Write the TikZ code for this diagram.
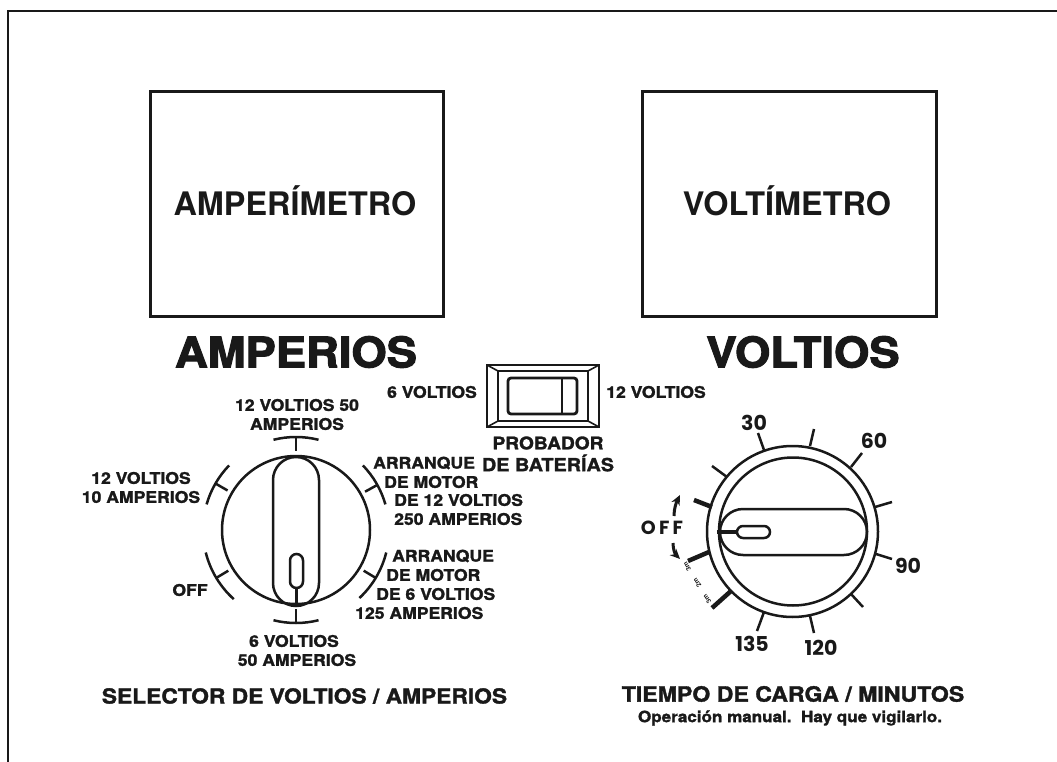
\documentclass[tikz,border=0pt]{standalone}
\usepackage{fontspec}
\setmainfont{TeX Gyre Heros}
\newfontfamily\blk[BoldFeatures={FakeBold=1.6,FakeStretch=1.1}]{TeX Gyre Heros}
\newfontfamily\blkbig[BoldFeatures={FakeBold=2.6,FakeStretch=1.08}]{TeX Gyre Heros}
\newfontfamily\geo{Poppins}
\usetikzlibrary{arrows.meta}
\tikzset{
  line/.style={line width=2.5pt,draw=black!90},
  thickmark/.style={line width=4.5pt,draw=black!90},
  lab/.style={inner sep=0pt,text=black!90,font=\blk\bfseries\fontsize{16}{18}\selectfont},
  big/.style={inner sep=0pt,text=black!90,font=\blkbig\bfseries\fontsize{42}{44}\selectfont},
  meter/.style={inner sep=0pt,text=black!90,font=\bfseries\fontsize{32.4}{34}\selectfont},
  num/.style={inner sep=0pt,text=black!90,font=\geo\bfseries\fontsize{20.5}{22}\selectfont},
  tinylab/.style={inner sep=0pt,text=black!90,font=\bfseries\fontsize{6.5}{7}\selectfont},
}
\newcommand{\dialmark}[3]{%
  \draw[line] ([shift={(296,530)}]#1:93) arc[start angle=#1,end angle=#2,radius=93];
  \draw[line] ([shift={(296,530)}]#3:93) -- ([shift={(296,530)}]#3:79);
}
\begin{document}
\begin{tikzpicture}[x=1pt,y=-1pt]
\useasboundingbox (0,0) rectangle (1057,762);
% frame
\draw[line] (8,762) -- (8,11) -- (1057,11);
% meters
\node[draw=black!90,line width=2.5pt,minimum width=293pt,minimum height=225pt,inner sep=0pt] (ampbox) at (297,204) {};
\node[draw=black!90,line width=2.5pt,minimum width=294pt,minimum height=225pt,inner sep=0pt] (voltbox) at (789.5,204) {};
\node[meter] (ampm) at (295,201) {AMPERÍMETRO};
\node[meter] (voltm) at (787,201) {VOLTÍMETRO};
\node[big] (amps) at (296,352) {AMPERIOS};
\node[big] (volts) at (803,352) {VOLTIOS};
% switch
\draw[line] (487,365) rectangle (599,427);
\draw[line] (498,371) rectangle (588,421);
\draw[line width=1.6pt,draw=black!90] (487,365) -- (498,371) (599,365) -- (588,371) (487,427) -- (498,421) (599,427) -- (588,421);
\draw[line width=2.8pt,draw=black!90,rounded corners=3pt] (508,378) rectangle (577,414);
\draw[line width=2.2pt,draw=black!90] (562,378) -- (562,414);
\node[lab] (sw6) at (432,392) {6 VOLTIOS};
\node[lab] (sw12) at (656,392) {12 VOLTIOS};
\node[lab,font=\blk\bfseries\fontsize{17.4}{19}\selectfont] (pr1) at (548,443) {PROBADOR};
\node[lab,font=\blk\bfseries\fontsize{18}{20}\selectfont] (pr2) at (548,463) {DE BATERÍAS};
% left dial
\draw[line] (296,530) circle[radius=74];
\draw[line] (296,457) arc[start angle=-90,end angle=-180,radius=23] -- (273,583) arc[start angle=180,end angle=90,radius=23] arc[start angle=90,end angle=0,radius=23] -- (319,480) arc[start angle=0,end angle=-90,radius=23] -- cycle;
\draw[line] (296.5,554) arc[start angle=-90,end angle=-180,radius=6.5] -- (290,581.5) arc[start angle=180,end angle=0,radius=6.5] -- (303,560.5) arc[start angle=0,end angle=-90,radius=6.5] -- cycle;
\draw[line width=3.5pt,draw=black!90] (296.5,588) -- (296.5,606);
\dialmark{-104}{-76}{-90}
\dialmark{-44}{-16}{-29}
\dialmark{14}{47}{31}
\dialmark{76}{104}{90}
\dialmark{132}{166}{149}
\dialmark{196}{224}{210}
\node[lab] (a1) at (297,405) {12 VOLTIOS 50};
\node[lab] (a2) at (297,424) {AMPERIOS};
\node[lab] (b1) at (141,478) {12 VOLTIOS};
\node[lab] (b2) at (141,497) {10 AMPERIOS};
\node[lab] (coff) at (190,590) {OFF};
\node[lab] (d1) at (294,641) {6 VOLTIOS};
\node[lab] (d2) at (297,660) {50 AMPERIOS};
\node[lab,anchor=west] (e1) at (373,463) {ARRANQUE};
\node[lab,anchor=west] (e2) at (384,482) {DE MOTOR};
\node[lab,anchor=west] (e3) at (394,500) {DE 12 VOLTIOS};
\node[lab,anchor=west] (e4) at (394,519) {250 AMPERIOS};
\node[lab,anchor=west] (f1) at (392,556) {ARRANQUE};
\node[lab,anchor=west] (f2) at (386,575) {DE MOTOR};
\node[lab,anchor=west] (f3) at (376,594) {DE 6 VOLTIOS};
\node[lab,anchor=west] (f4) at (355,613) {125 AMPERIOS};
\node[lab,font=\blk\bfseries\fontsize{20.7}{22}\selectfont] (sel) at (304.5,696) {SELECTOR DE VOLTIOS / AMPERIOS};
% right dial
\draw[line] (792.5,531.5) circle[radius=85.5];
\draw[line] (793,531.5) circle[radius=74];
\draw[line] (743,509) -- (844,509) arc[start angle=-90,end angle=90,radius=23] -- (743,555) arc[start angle=90,end angle=270,radius=23] -- cycle;
\draw[line] (743,526) -- (764,526) arc[start angle=-90,end angle=90,radius=6] -- (743,538) arc[start angle=90,end angle=270,radius=6] -- cycle;
\draw[line width=4.5pt,draw=black!90] (717,532) -- (737,532);
\draw[line] (764,450) -- (758,433);
\draw[line] (810,446) -- (814,429);
\draw[line] (851,467) -- (862,453);
\draw[line] (875,507) -- (892,502);
\draw[line] (876,554) -- (892,559);
\draw[line] (851,594) -- (863,607);
\draw[line] (810,616) -- (814,633);
\draw[line] (764,612) -- (757,631);
\draw[line] (727,477) -- (712,466);
\draw[thickmark] (731,591) -- (712,608);
\draw[thickmark] (709,552) -- (688,561);
\draw[thickmark] (712,507) -- (694,500);
\draw[line width=3pt,draw=black!90,-{Stealth[length=10pt,width=9pt]}] (674,516) .. controls (674,509) and (676,503) .. (680,495);
\draw[line width=3pt,draw=black!90,-{Stealth[length=10pt,width=9pt]}] (673,543) .. controls (673,549) and (675,554) .. (680,559);
\node[inner sep=0pt,text=black!90,font=\geo\bfseries\fontsize{19}{20}\selectfont] (off) at (662,528) {O\,F\,F};
\node[tinylab,rotate=128] (tiny1) at (707,599) {3m};
\node[tinylab,rotate=124] (tiny2) at (697,583) {2m};
\node[tinylab,rotate=120] (tiny3) at (687,567) {3m};
\node[num] (n30) at (754,423) {30};
\node[num] (n60) at (874,441) {60};
\node[num] (n90) at (908,566) {90};
\node[num] (n120) at (821,648) {120};
\node[num] (n135) at (752,644) {135};
\node[lab,font=\blk\bfseries\fontsize{21}{23}\selectfont] (tm) at (793,694) {TIEMPO DE CARGA / MINUTOS};
\node[lab,font=\blk\bfseries\fontsize{15.5}{17}\selectfont] (op) at (790,718) {Operación manual.\ \ Hay que vigilarlo.};
\end{tikzpicture}
\end{document}
